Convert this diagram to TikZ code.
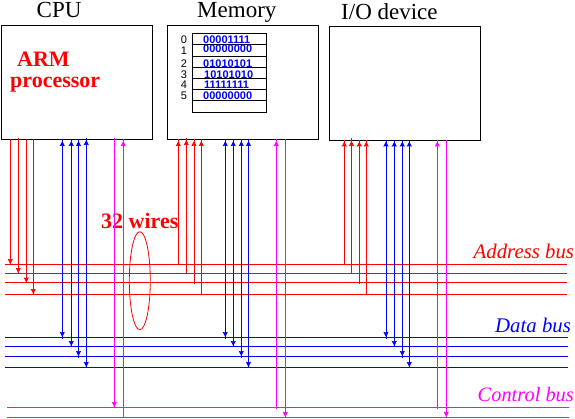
\documentclass[tikz,border=0pt]{standalone}
\usepackage{fontspec}
\setmainfont{Liberation Serif}
\newfontfamily\lsans{Liberation Sans}
\usetikzlibrary{arrows.meta,decorations.markings,shapes.geometric}
\newcommand{\fs}[1]{\fontsize{#1}{#1}\selectfont}
\definecolor{rd}{RGB}{255,0,0}
\definecolor{bl}{RGB}{0,0,255}
\definecolor{mg}{RGB}{255,0,255}
\tikzset{
  x=1pt,y=-1pt,
  box/.style={draw=black,line width=1pt,minimum width=#1,inner sep=0pt,outer sep=0pt,anchor=north west},
  title/.style={inner sep=0pt,anchor=base west,font=\fs{23}},
  redbold/.style={inner sep=0pt,anchor=base west,text=rd,font=\fs{22}\bfseries},
  busname/.style={inner sep=0pt,anchor=base west,font=\fs{20.8}\itshape},
  bits/.style={inner sep=0pt,anchor=base west,text=bl,font=\lsans\fs{11}\bfseries},
  addr/.style={inner sep=0pt,anchor=base,font=\lsans\fs{11}},
  busline/.style={line width=1pt},
  wire/.style={line width=1pt},
  headdown/.style={postaction={decorate,decoration={markings,mark=at position #1 with {\arrow{Stealth[length=5pt,width=5pt,inset=0.5pt]}}}}},
  headup/.style={postaction={decorate,decoration={markings,mark=at position #1 with {\arrowreversed{Stealth[length=5pt,width=5pt,inset=0.5pt]}}}}},
}
% \conn{name}{x}{y top}{y bottom}{colour and options}
\newcommand{\conn}[5]{%
  \coordinate (#1t) at (#2,#3);
  \coordinate (#1b) at (#2,#4);
  \draw[wire,#5] (#1t) -- (#1b);}
\newcommand{\bus}[5]{%
  \coordinate (#1l) at (#2,#4);
  \coordinate (#1r) at (#3,#4);
  \draw[busline,#5] (#1l) -- (#1r);}
\begin{document}
\begin{tikzpicture}
\useasboundingbox (0,0) rectangle (575,418);
% boxes
\node[box=151pt,minimum height=113.6pt] (cpu) at (1.5,25.5) {};
\node[box=151pt,minimum height=113.6pt] (mem) at (167.4,25.5) {};
\node[box=151pt,minimum height=114pt] (io) at (329.4,26.2) {};
% titles
\node[title] (tcpu) at (36.5,17.5) {CPU};
\node[title] (tmem) at (197,17.5) {Memory};
\node[title] (tio) at (341,19.5) {I/O device};
\node[redbold] (arm) at (17,66.5) {ARM};
\node[redbold] (proc) at (10,87) {processor};
\node[redbold] (w32) at (101,228) {32 wires};
\node[busname,text=rd] (labaddr) at (473.5,258) {Address bus};
\node[busname,text=bl] (labdata) at (495,332.7) {Data bus};
\node[busname,text=mg,font=\fs{20.4}\itshape] (labctrl) at (477.5,401.7) {Control bus};
% memory table
\foreach \n/\ya/\h in {0/33.5/11,1/44.5/12,2/56.5/11,3/67.5/11,4/78.5/11,5/89.5/11,6/100.5/12}
  \node[box=74pt,minimum height=\h pt,line width=0.8pt] (row\n) at (192.5,\ya) {};
\node[addr] (a0) at (184,43) {0};
\node[addr] (a1) at (184,54) {1};
\node[addr] (a2) at (184,67) {2};
\node[addr] (a3) at (184,78.5) {3};
\node[addr] (a4) at (184,88.5) {4};
\node[addr] (a5) at (184,99) {5};
\node[bits] (b0) at (203,43) {00001111};
\node[bits] (b1) at (203,52.5) {00000000};
\node[bits] (b2) at (203,67) {01010101};
\node[bits] (b3) at (204,78) {10101010};
\node[bits] (b4) at (204,88) {11111111};
\node[bits] (b5) at (203,99) {00000000};
% buses
\bus{aa}{5}{567}{264.3}{rd}
\bus{ab}{5}{567}{273.3}{rd}
\bus{ac}{5}{567}{282.3}{rd}
\bus{ad}{5}{567}{294.3}{rd}
\bus{da}{5}{568}{337.3}{bl}
\bus{db}{5}{568}{346.3}{bl}
\bus{dc}{5}{568}{356.3}{bl}
\bus{dd}{5}{568}{367.3}{bl}
\bus{ca}{7}{569}{407.3}{mg}
\bus{cb}{7}{569}{417.3}{mg}
% CPU wires
\conn{c1}{10.3}{139}{264}{rd,headdown={1}}
\conn{c2}{18.3}{138}{273}{rd,headdown={1}}
\conn{c3}{26.3}{139}{282.5}{rd,headdown={1}}
\conn{c4}{33.3}{139}{294}{rd,headdown={1}}
\conn{c5}{62.3}{139}{339}{bl,headdown={-2pt},headup={2pt}}
\conn{c6}{71.3}{139}{346}{bl,headdown={1},headup={2pt}}
\conn{c7}{78.5}{139}{358}{bl,headdown={-2pt},headup={2pt}}
\conn{c8}{86.3}{138}{367}{bl,headdown={1},headup={2pt}}
\conn{c9}{114.3}{138}{407}{mg,headdown={1}}
\conn{c10}{123.3}{139}{417.5}{mg,headup={2pt}}
% memory wires
\conn{m1}{178.3}{139}{264}{rd,headup={2pt}}
\conn{m2}{186.3}{138}{273}{rd,headup={2pt}}
\conn{m3}{194}{139}{283.5}{rd,headup={2pt}}
\conn{m4}{201.3}{139}{294}{rd,headup={2pt}}
\conn{m5}{225.3}{139}{339}{bl,headdown={-2pt},headup={2pt}}
\conn{m6}{233.3}{139}{346}{bl,headdown={1},headup={2pt}}
\conn{m7}{241.3}{139}{358}{bl,headdown={-2pt},headup={2pt}}
\conn{m8}{248.5}{139}{367}{bl,headdown={1},headup={2pt}}
\conn{m9}{276.3}{139}{408.5}{mg,headup={2pt}}
\conn{m10}{285.3}{139}{417}{mg,headdown={1}}
% I/O wires
\conn{i1}{344.3}{140}{264}{rd,headup={1.5pt}}
\conn{i2}{351.5}{138}{273}{rd,headup={3pt}}
\conn{i3}{359.3}{140}{283.5}{rd,headup={1.5pt}}
\conn{i4}{366.3}{140}{294}{rd,headup={1.5pt}}
\conn{i5}{386}{140}{339}{bl,headdown={-2pt},headup={1.5pt}}
\conn{i6}{394.3}{140}{346}{bl,headdown={1},headup={1.5pt}}
\conn{i7}{402.3}{140}{358}{bl,headdown={-2pt},headup={1.5pt}}
\conn{i8}{409.3}{140}{367}{bl,headdown={1},headup={1.5pt}}
\conn{i9}{437.3}{140}{408.5}{mg,headup={1.5pt}}
\conn{i10}{446.3}{140}{417}{mg,headdown={1}}
% bundle mark
\node[draw=rd,line width=0.8pt,ellipse,minimum width=21pt,minimum height=98pt,inner sep=0pt,outer sep=0pt] (bundle) at (139.8,280.7) {};
\end{tikzpicture}
\end{document}
